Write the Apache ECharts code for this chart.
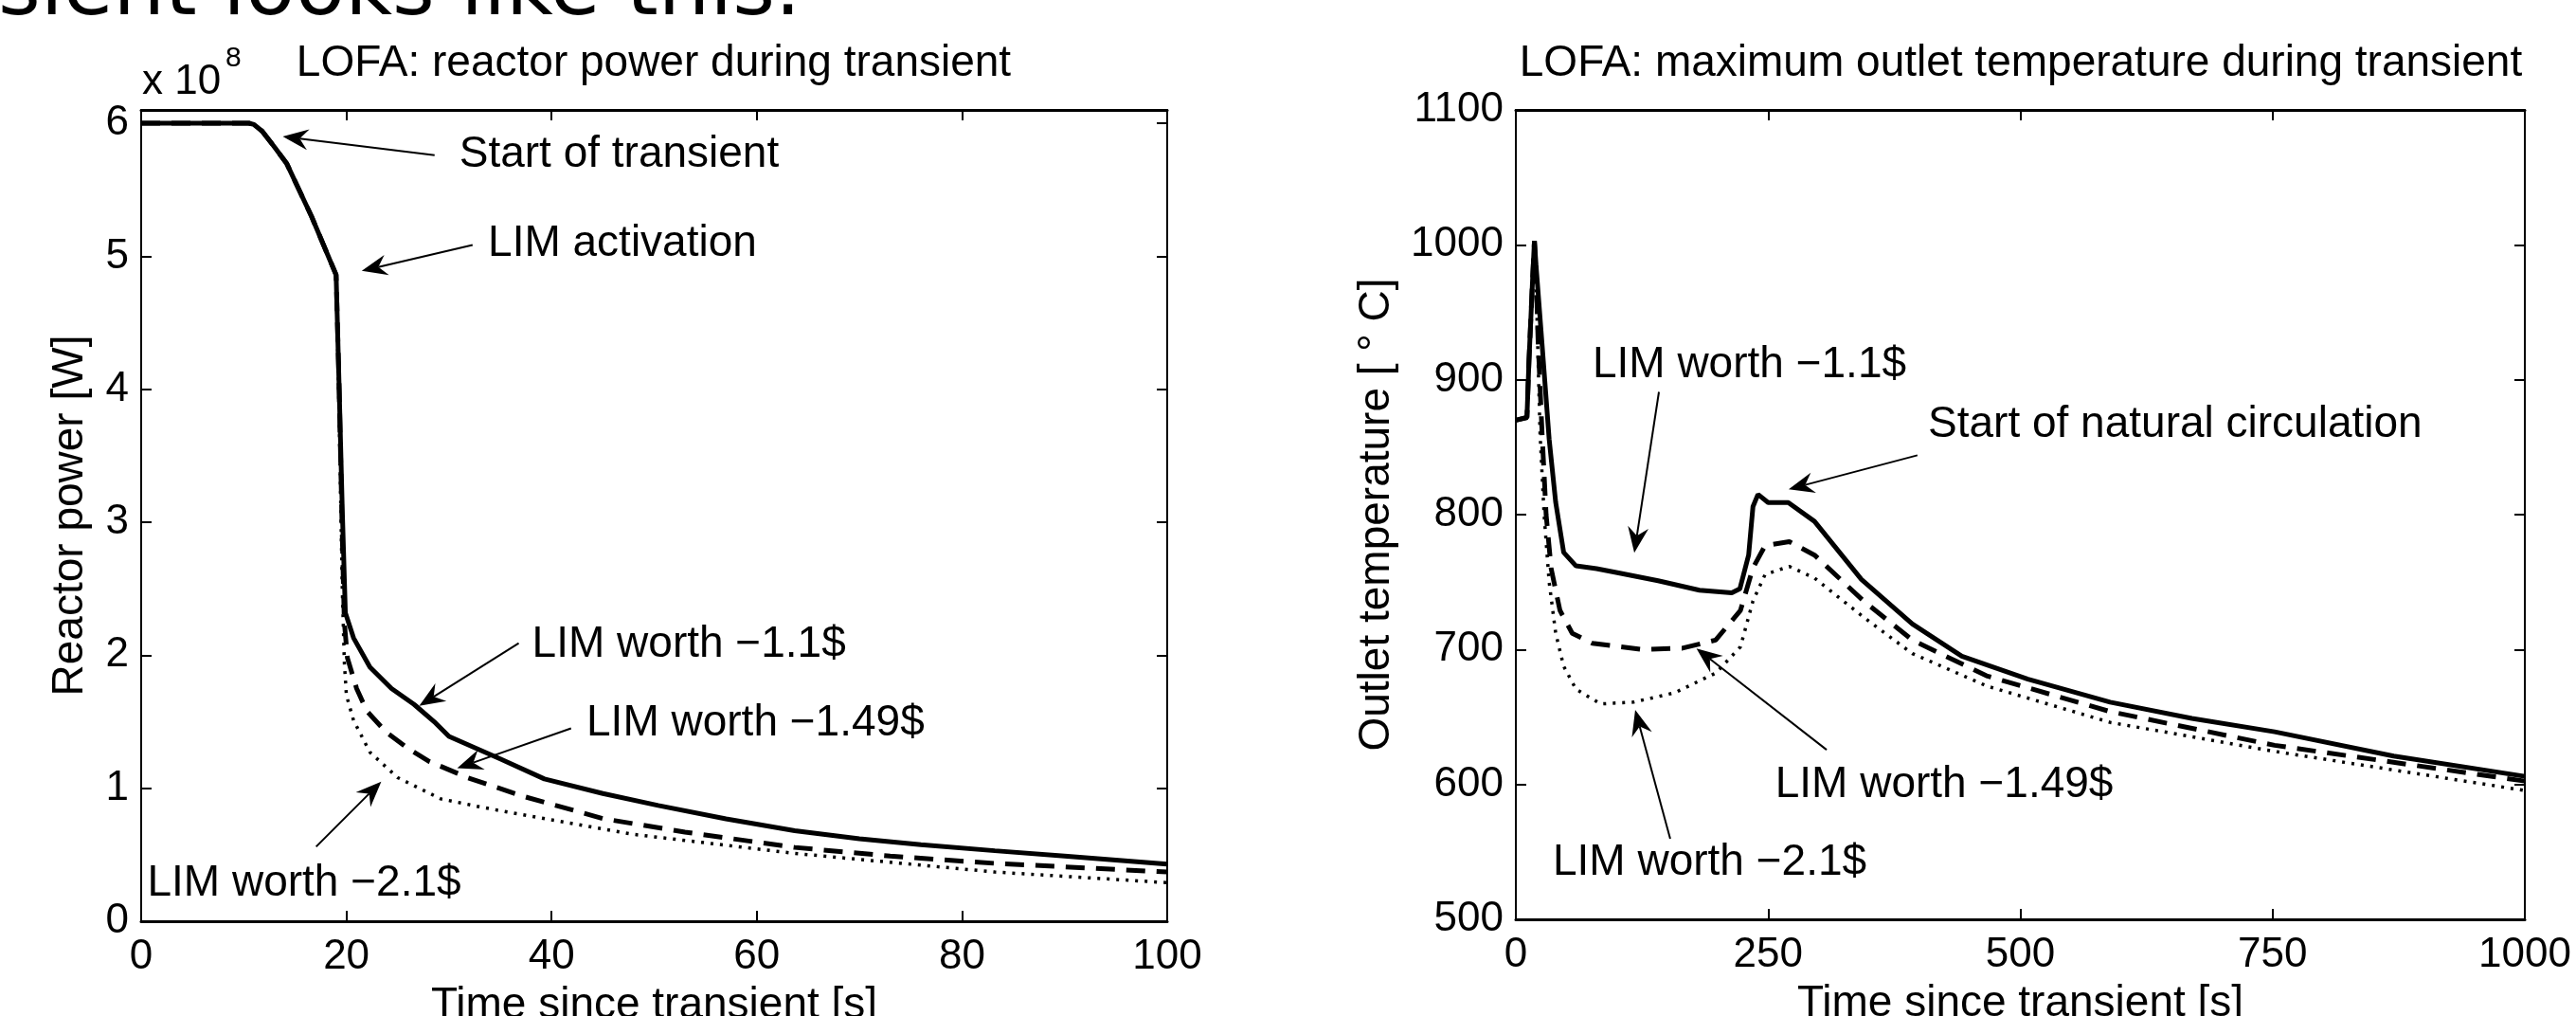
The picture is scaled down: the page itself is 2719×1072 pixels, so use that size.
<!DOCTYPE html>
<html>
<head>
<meta charset="utf-8">
<title>LOFA transient</title>
<script src="https://cdn.jsdelivr.net/npm/echarts@6/dist/echarts.min.js"></script>
<style>
  html, body { margin: 0; padding: 0; background: #fff; }
  #chart { width: 2719px; height: 1072px; }
</style>
</head>
<body>
<div id="chart"></div>
<script>
// reactor power [x 10^8 W] against time since transient [s]
const powerTimeA = [0, 10.5, 11, 11.8, 13, 14.2, 16.6, 19.0, 19.3, 19.6, 19.9, 20.7, 22.3, 24.4, 26.6, 28.7, 30, 35, 39.3, 45, 50.4, 57, 63.7, 70, 76, 83.2, 90, 100];
const powerA     = [6.0, 6.0, 5.99, 5.94, 5.82, 5.695, 5.30, 4.86, 4.0, 3.1, 2.32, 2.13, 1.91, 1.75, 1.63, 1.49, 1.39, 1.22, 1.07, 0.96, 0.87, 0.77, 0.68, 0.62, 0.575, 0.53, 0.49, 0.43];
const powerTimeB = [0, 10.5, 11, 11.8, 13, 14.2, 16.6, 19.0, 19.3, 19.6, 19.8, 20.1, 21, 22, 23.9, 26, 28.1, 31.8, 37.2, 45.1, 53, 63.7, 73, 83.2, 100];
const powerB     = [6.0, 6.0, 5.99, 5.94, 5.82, 5.695, 5.30, 4.86, 4.0, 2.9, 2.25, 1.98, 1.75, 1.58, 1.42, 1.30, 1.20, 1.08, 0.94, 0.77, 0.67, 0.555, 0.49, 0.435, 0.37];
const powerTimeC = [0, 10.5, 11, 11.8, 13, 14.2, 16.6, 19.0, 19.3, 19.6, 19.8, 20.0, 20.7, 22.3, 25, 29.2, 33, 37.2, 47.8, 63.7, 83.2, 100];
const powerC     = [6.0, 6.0, 5.99, 5.94, 5.82, 5.695, 5.30, 4.86, 3.8, 2.5, 1.95, 1.70, 1.51, 1.27, 1.08, 0.92, 0.86, 0.80, 0.655, 0.51, 0.37, 0.29];

// maximum outlet temperature [°C] against time since transient [s]
const tempTimeA = [0, 11, 13, 16.5, 18.4, 20, 26, 33, 39.5, 47.4, 59.6, 80, 100.6, 141, 182, 214, 222, 230.7, 235, 240, 250, 270, 296, 342.5, 393, 442, 507.6, 589, 670, 752, 870, 1000];
const tempA     = [870, 872, 914, 973, 1003, 985, 926, 856, 809, 772, 762, 760, 757, 751, 744, 742, 745, 770, 806, 815, 809, 809, 795, 752, 719, 695, 678, 661, 649, 639, 621, 606];
const tempTimeB = [0, 11, 13, 16.5, 18.4, 20, 22, 26, 30, 35, 43.7, 55.9, 76, 125, 165, 198, 222.6, 235, 247, 271, 296, 344.6, 393, 466.5, 589, 752, 1000];
const tempB     = [870, 872, 914, 973, 1003, 980, 930, 860, 800, 760, 729, 712, 704.6, 700, 701, 707, 729, 760.5, 777, 780, 770, 736, 707, 680.5, 654, 629, 602.5];
const tempTimeC = [0, 11, 13, 16.5, 18.4, 20, 21.5, 24, 28, 33, 39.5, 47.4, 59.6, 84, 116.7, 157.6, 198.4, 222.6, 235, 247, 271, 296, 344.6, 393, 466.5, 589, 752, 1000];
const tempC     = [870, 872, 914, 973, 1003, 975, 930, 860, 800, 750, 712, 687.6, 670.6, 659.7, 661, 668, 682.7, 702, 736, 755.6, 761.6, 753, 724, 697, 673, 646, 624.5, 595.5];

// annotations: text position (left, middle), arrow tail and arrow tip, in data units
const powerNotes = [
  { text: 'Start of transient', at: [31.0, 5.76], tail: [28.6, 5.76], tip: [13.8, 5.90] },
  { text: 'LIM activation', at: [33.8, 5.09], tail: [32.3, 5.085], tip: [21.5, 4.89] },
  { text: 'LIM worth \u22121.1$', at: [38.1, 2.08], tail: [36.8, 2.09], tip: [27.1, 1.62] },
  { text: 'LIM worth \u22121.49$', at: [43.4, 1.49], tail: [41.9, 1.45], tip: [30.8, 1.15] },
  { text: 'LIM worth \u22122.1$', at: [0.6, 0.28], tail: [17.05, 0.56], tip: [23.4, 1.05] }
];
const tempNotes = [
  { text: 'LIM worth \u22121.1$', at: [76, 910.8], tail: [141.8, 891], tip: [117.4, 771.8] },
  { text: 'Start of natural circulation', at: [408.5, 866.6], tail: [398, 844], tip: [270.4, 818.8] },
  { text: 'LIM worth \u22121.49$', at: [257, 599.7], tail: [308, 625.7], tip: [179, 700.8] },
  { text: 'LIM worth \u22122.1$', at: [36.6, 542], tail: [153, 559.7], tip: [118.3, 655.2] }
];

const FONT = '"Liberation Sans", Arial, Helvetica, sans-serif';
const zip = (xs, ys) => xs.map((x, i) => [x, ys[i]]);

const chart = echarts.init(document.getElementById('chart'));

function axis(gridIndex, position, min, max, interval, extra) {
  const horizontal = position === 'top' || position === 'bottom';
  return Object.assign({
    type: 'value',
    gridIndex: gridIndex,
    position: position,
    min: min,
    max: max,
    interval: interval,
    splitLine: { show: false },
    axisLine: { show: true, onZero: false, lineStyle: { color: '#000', width: horizontal ? 3 : 2 } },
    axisTick: { show: true, inside: true, length: 11, lineStyle: { color: '#000', width: 2 } },
    axisLabel: {
      show: position === 'bottom' || position === 'left',
      color: '#000', fontSize: 44, fontFamily: FONT,
      margin: horizontal ? 16 : 13,
      showMaxLabel: max % interval === 0,
      formatter: v => String(v)
    },
    nameTextStyle: { color: '#000', fontSize: 46, fontFamily: FONT }
  }, extra || {});
}

function lineSeries(xi, data, type, width) {
  return {
    type: 'line',
    xAxisIndex: xi,
    yAxisIndex: xi,
    data: data,
    symbol: 'none',
    clip: true,
    lineStyle: { color: '#000', width: width, type: type }
  };
}

const DASH = [20, 12];
const DOT = [3, 7];

chart.setOption({
  animation: false,
  backgroundColor: '#fff',
  title: [
    { text: 'LOFA: reactor power during transient', left: 690, top: 44, textAlign: 'center', padding: 0,
      textStyle: { fontSize: 46, fontWeight: 'normal', fontFamily: FONT, color: '#000' } },
    { text: 'LOFA: maximum outlet temperature during transient', left: 2133, top: 44, textAlign: 'center', padding: 0,
      textStyle: { fontSize: 46, fontWeight: 'normal', fontFamily: FONT, color: '#000' } }
  ],
  grid: [
    { left: 149, top: 116, width: 1083, height: 856, containLabel: false, outerBoundsMode: 'none' },
    { left: 1600, top: 116, width: 1065, height: 854, containLabel: false, outerBoundsMode: 'none' }
  ],
  xAxis: [
    axis(0, 'bottom', 0, 100, 20, { name: 'Time since transient [s]', nameLocation: 'middle', nameGap: 66 }),
    axis(0, 'top', 0, 100, 20),
    axis(1, 'bottom', 0, 1000, 250, { name: 'Time since transient [s]', nameLocation: 'middle', nameGap: 66 }),
    axis(1, 'top', 0, 1000, 250)
  ],
  yAxis: [
    axis(0, 'left', 0, 6.1, 1, { name: 'Reactor power [W]', nameLocation: 'middle', nameGap: 52 }),
    axis(0, 'right', 0, 6.1, 1),
    axis(1, 'left', 500, 1100, 100, { name: 'Outlet temperature [ \u00b0 C]', nameLocation: 'middle', nameGap: 124 }),
    axis(1, 'right', 500, 1100, 100)
  ],
  series: [
    lineSeries(0, zip(powerTimeC, powerC), DOT, 3.5),
    lineSeries(0, zip(powerTimeB, powerB), DASH, 5),
    lineSeries(0, zip(powerTimeA, powerA), 'solid', 5),
    lineSeries(2, zip(tempTimeC, tempC), DOT, 3.5),
    lineSeries(2, zip(tempTimeB, tempB), DASH, 5),
    lineSeries(2, zip(tempTimeA, tempA), 'solid', 5)
  ]
});

// arrows and labels, placed through the axes
function noteGraphics(notes, finder) {
  const els = [];
  notes.forEach(n => {
    const p = chart.convertToPixel(finder, n.at);
    const a = chart.convertToPixel(finder, n.tail);
    const b = chart.convertToPixel(finder, n.tip);
    const dx = b[0] - a[0], dy = b[1] - a[1];
    const len = Math.sqrt(dx * dx + dy * dy);
    const ux = dx / len, uy = dy / len;
    const nx = -uy, ny = ux;
    const L = 27, W = 11, N = 18;
    const notch = [b[0] - N * ux, b[1] - N * uy];
    els.push({
      type: 'line', silent: true,
      shape: { x1: a[0], y1: a[1], x2: notch[0], y2: notch[1] },
      style: { stroke: '#000', lineWidth: 2 }
    });
    els.push({
      type: 'polygon', silent: true,
      shape: { points: [b, [b[0] - L * ux + W * nx, b[1] - L * uy + W * ny], notch, [b[0] - L * ux - W * nx, b[1] - L * uy - W * ny]] },
      style: { fill: '#000' }
    });
    els.push({
      type: 'text', silent: true,
      style: { text: n.text, x: p[0], y: p[1], fill: '#000', font: '46px ' + FONT, align: 'left', verticalAlign: 'middle' }
    });
  });
  return els;
}

const graphics = [].concat(
  noteGraphics(powerNotes, { xAxisIndex: 0, yAxisIndex: 0 }),
  noteGraphics(tempNotes, { xAxisIndex: 2, yAxisIndex: 2 }),
  [
    { type: 'text', silent: true, style: { text: 'x 10', x: 150, y: 87, fill: '#000', font: '44px ' + FONT, align: 'left', verticalAlign: 'middle' } },
    { type: 'text', silent: true, style: { text: '8', x: 238, y: 62, fill: '#000', font: '30px ' + FONT, align: 'left', verticalAlign: 'middle' } },
    { type: 'text', silent: true, style: { text: 'sient looks like this.', x: -2, y: -7, fill: '#000', font: '86px "DejaVu Sans", sans-serif', align: 'left', verticalAlign: 'middle' } }
  ]
);

chart.setOption({ graphic: graphics });
</script>
</body>
</html>
